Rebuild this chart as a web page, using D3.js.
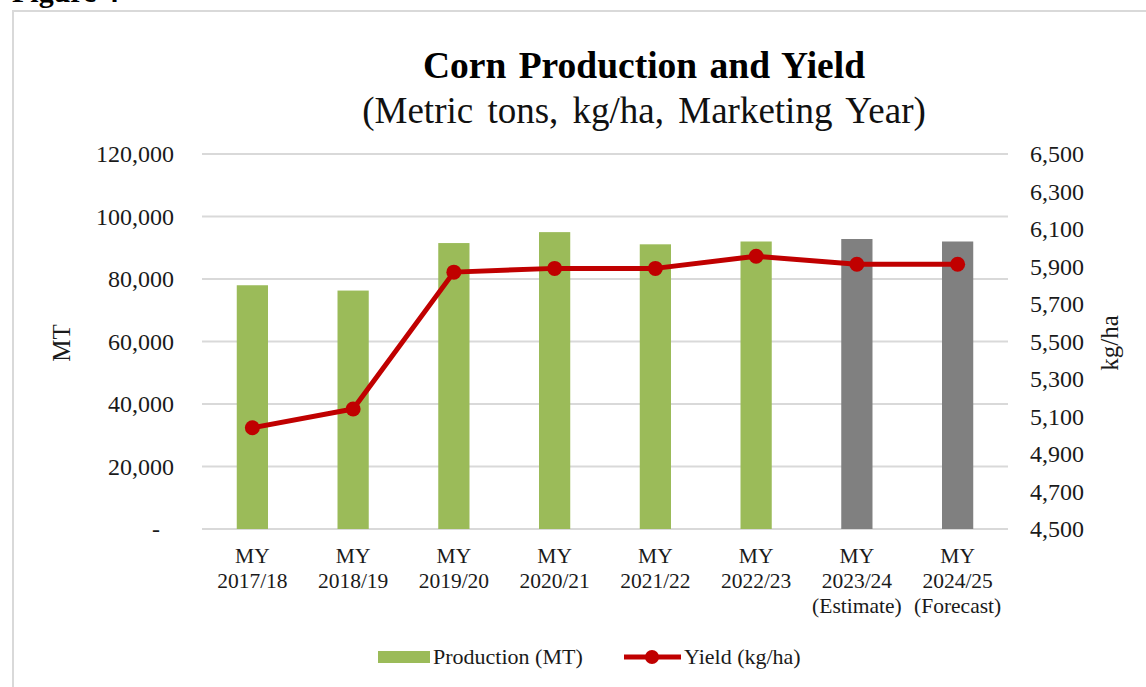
<!DOCTYPE html>
<html>
<head>
<meta charset="utf-8">
<script src="https://cdn.jsdelivr.net/npm/d3@7"></script>
<style>
  html, body { margin: 0; padding: 0; background: #fff; }
  svg { display: block; font-family: "Liberation Serif", "Times New Roman", serif; }
</style>
</head>
<body>
<svg id="chart" width="1146" height="687"></svg>
<script>
  const years = ["2017/18", "2018/19", "2019/20", "2020/21", "2021/22", "2022/23", "2023/24", "2024/25"];
  const notes = ["", "", "", "", "", "", "(Estimate)", "(Forecast)"];
  const production = [78000, 76300, 91500, 95000, 91100, 92000, 92800, 92000];
  const yieldKgHa = [5040, 5140, 5870, 5890, 5890, 5955, 5912, 5912];
  const leftTicks = [0, 20000, 40000, 60000, 80000, 100000, 120000];
  const rightTicks = [4500, 4700, 4900, 5100, 5300, 5500, 5700, 5900, 6100, 6300, 6500];

  const GREEN = "#9bbb59";
  const GREY = "#808080";
  const RED = "#c00000";
  const GRID = "#d9d9d9";

  const plot = { left: 202, right: 1008, top: 154, bottom: 529 };

  const svg = d3.select("#chart");

  // frame around the figure
  svg.append("path")
    .attr("d", `M13,687 V11 H1146`)
    .attr("fill", "none")
    .attr("stroke", GRID)
    .attr("stroke-width", 2);

  svg.append("text")
    .attr("x", 12).attr("y", 2)
    .attr("font-size", 30).attr("font-weight", "bold")
    .text("Figure 4");

  const x = d3.scaleBand().domain(years).range([plot.left, plot.right]);
  const yLeft = d3.scaleLinear().domain([0, 120000]).range([plot.bottom, plot.top]);
  const yRight = d3.scaleLinear().domain([4500, 6500]).range([plot.bottom, plot.top]);

  // gridlines
  svg.append("g").selectAll("line").data(leftTicks).join("line")
    .attr("x1", plot.left).attr("x2", plot.right)
    .attr("y1", d => yLeft(d)).attr("y2", d => yLeft(d))
    .attr("stroke", GRID).attr("stroke-width", 2);

  // left axis
  const fmt = d3.format(",");
  const leftAxis = svg.append("g")
    .attr("transform", `translate(${plot.left},0)`)
    .call(d3.axisLeft(yLeft).tickValues(leftTicks).tickSize(0).tickPadding(28)
      .tickFormat(d => d === 0 ? "-" : fmt(d)));
  leftAxis.select(".domain").remove();
  leftAxis.selectAll("text")
    .attr("font-family", "Liberation Serif, serif").attr("font-size", 24).attr("fill", "#1a1a1a")
    .attr("dx", d => d === 0 ? -14 : 0);

  // right axis
  const rightAxis = svg.append("g")
    .attr("transform", `translate(${plot.right},0)`)
    .call(d3.axisRight(yRight).tickValues(rightTicks).tickSize(0).tickPadding(22)
      .tickFormat(fmt));
  rightAxis.select(".domain").remove();
  rightAxis.selectAll("text")
    .attr("font-family", "Liberation Serif, serif").attr("font-size", 24).attr("fill", "#1a1a1a");

  // bars
  const barW = x.bandwidth() * 0.31;
  svg.append("g").selectAll("rect").data(production).join("rect")
    .attr("x", (d, i) => x(years[i]) + (x.bandwidth() - barW) / 2)
    .attr("width", barW)
    .attr("y", d => yLeft(d))
    .attr("height", d => yLeft(0) - yLeft(d))
    .attr("fill", (d, i) => notes[i] ? GREY : GREEN);

  // yield line
  const cx = i => x(years[i]) + x.bandwidth() / 2;
  const line = d3.line().x((d, i) => cx(i)).y(d => yRight(d));
  svg.append("path")
    .datum(yieldKgHa)
    .attr("d", line)
    .attr("fill", "none")
    .attr("stroke", RED)
    .attr("stroke-width", 5)
    .attr("stroke-linejoin", "round");
  svg.append("g").selectAll("circle").data(yieldKgHa).join("circle")
    .attr("cx", (d, i) => cx(i))
    .attr("cy", d => yRight(d))
    .attr("r", 7.5)
    .attr("fill", RED);

  // x labels
  const xl = svg.append("g").attr("font-size", 21.5).attr("text-anchor", "middle").attr("fill", "#1a1a1a");
  years.forEach((yr, i) => {
    const t = xl.append("text").attr("x", cx(i)).attr("y", 563);
    t.append("tspan").attr("x", cx(i)).text("MY");
    t.append("tspan").attr("x", cx(i)).attr("dy", 25).text(yr);
    if (notes[i]) t.append("tspan").attr("x", cx(i)).attr("dy", 25).text(notes[i]);
  });

  // axis titles
  svg.append("text")
    .attr("transform", "translate(64,343) rotate(-90)")
    .attr("text-anchor", "middle").attr("dominant-baseline", "middle")
    .attr("font-size", 25).attr("fill", "#1a1a1a")
    .text("MT");
  svg.append("text")
    .attr("transform", "translate(1112,343) rotate(-90)")
    .attr("text-anchor", "middle").attr("dominant-baseline", "middle")
    .attr("font-size", 25).attr("fill", "#1a1a1a")
    .text("kg/ha");

  // titles
  svg.append("text")
    .attr("x", 644).attr("y", 78)
    .attr("text-anchor", "middle")
    .attr("font-size", 37.5).attr("font-weight", "bold")
    .attr("word-spacing", 3)
    .text("Corn Production and Yield");
  svg.append("text")
    .attr("x", 644).attr("y", 123)
    .attr("text-anchor", "middle")
    .attr("font-size", 37).attr("fill", "#111")
    .attr("word-spacing", 5)
    .text("(Metric tons, kg/ha, Marketing Year)");

  // legend
  const lg = svg.append("g").attr("font-size", 22).attr("fill", "#1a1a1a");
  lg.append("rect").attr("x", 378).attr("y", 651).attr("width", 52).attr("height", 12).attr("fill", GREEN);
  lg.append("text").attr("x", 433).attr("y", 664).text("Production (MT)");
  lg.append("line").attr("x1", 624).attr("x2", 681).attr("y1", 657).attr("y2", 657)
    .attr("stroke", RED).attr("stroke-width", 5);
  lg.append("circle").attr("cx", 652).attr("cy", 657).attr("r", 7).attr("fill", RED);
  lg.append("text").attr("x", 684).attr("y", 664).text("Yield (kg/ha)");
</script>
</body>
</html>
